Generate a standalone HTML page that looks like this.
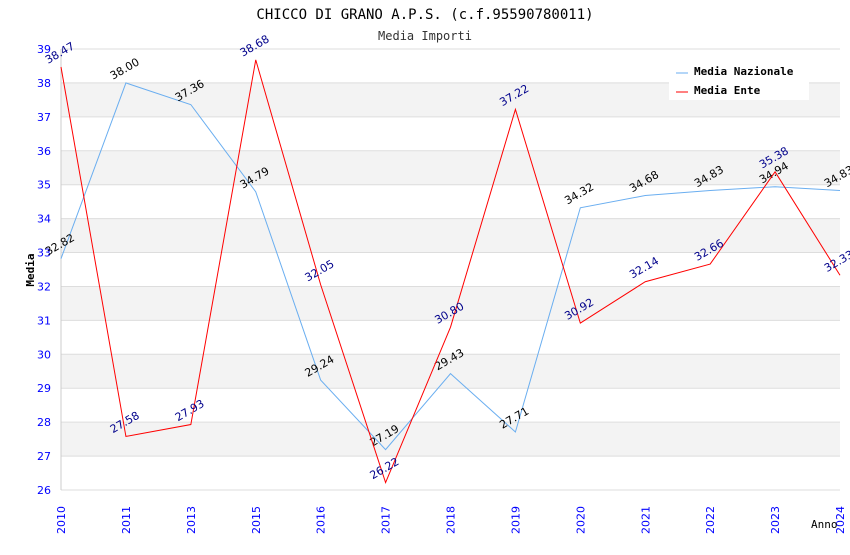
<!DOCTYPE html>
<html><head><meta charset="utf-8"><style>
body{margin:0;background:#fff;}
svg text{font-family:"DejaVu Sans Mono","Liberation Mono",monospace;}
svg text.s{font-family:"DejaVu Sans","Liberation Sans",sans-serif;}
</style></head><body>
<svg id="chart" width="850" height="550" xmlns="http://www.w3.org/2000/svg">
<text x="425" y="19" text-anchor="middle" font-size="14" fill="#000">CHICCO DI GRANO A.P.S. (c.f.95590780011)</text>
<text x="425" y="40" text-anchor="middle" font-size="12" fill="#333">Media Importi</text>
<g id="grid"></g>
<g id="axes"></g>
<g id="series"></g>
<text x="34" y="270" transform="rotate(-90 34 270)" text-anchor="middle" font-size="11" font-weight="bold" fill="#000">Media</text>
<text x="811" y="528" font-size="11" fill="#000">Anno</text>
<g>
<rect x="669" y="60" width="140" height="40" fill="#fff"/>
<line x1="676" y1="73" x2="688" y2="73" stroke="#6aaef0"/>
<text x="694" y="75" font-size="11" font-weight="bold">Media Nazionale</text>
<line x1="676" y1="92" x2="688" y2="92" stroke="#f00"/>
<text x="694" y="94" font-size="11" font-weight="bold">Media Ente</text>
</g>
</svg>
<script>
const categories=["2010","2011","2013","2015","2016","2017","2018","2019","2020","2021","2022","2023","2024"];
const nazionale=[32.82,38.00,37.36,34.79,29.24,27.19,29.43,27.71,34.32,34.68,34.83,34.94,34.83];
const ente=[38.47,27.58,27.93,38.68,32.05,26.22,30.80,37.22,30.92,32.14,32.66,35.38,32.33];
const yTicks=[26,27,28,29,30,31,32,33,34,35,36,37,38,39];
const NS="http://www.w3.org/2000/svg";
const X0=61,X1=840,Y0=490,Y1=49,YMIN=26,YMAX=39;
function xs(i){return X0+(X1-X0)*i/(categories.length-1);}
function ys(v){return Y0-(v-YMIN)*(Y0-Y1)/(YMAX-YMIN);}
function mk(tag,attrs,parent){const e=document.createElementNS(NS,tag);for(const k in attrs)e.setAttribute(k,attrs[k]);parent.appendChild(e);return e;}
const grid=document.getElementById('grid'),axes=document.getElementById('axes'),ser=document.getElementById('series');
for(let v=YMIN;v<YMAX;v++){
  if(v%2===1){const r=mk('rect',{x:X0,y:ys(v+1),width:X1-X0,height:ys(v)-ys(v+1),fill:'#f3f3f3'},grid);
  
  }
}
yTicks.forEach(v=>{
  const l=mk('line',{x1:X0,x2:X1,y1:ys(v),y2:ys(v),stroke:'#ddd'},grid);
  
  
  const t=mk('text',{x:X0-10,y:ys(v)+4,'text-anchor':'end','font-size':'11',fill:'#00f',class:'s'},axes);
  t.textContent=v;
  
  
});
const ax=mk('line',{x1:X0,x2:X0,y1:Y1,y2:Y0,stroke:'#ccc'},axes);


categories.forEach((c,i)=>{
  const x=xs(i),y=Y0+30;
  const t=mk('text',{x:x+4,y:y,transform:`rotate(-90 ${x+4} ${y})`,'text-anchor':'middle','font-size':'11',fill:'#00f',class:'s'},axes);
  t.textContent=c;
  
  
});
function drawSeries(vals,color,labColor,name){
  const p=mk('polyline',{points:vals.map((v,i)=>xs(i)+','+ys(v)).join(' '),fill:'none',stroke:color,'stroke-width':1},ser);
  
  
  vals.forEach((v,i)=>{
    const x=xs(i)-13,y=ys(v)-3;
    const t=mk('text',{x:x,y:y,transform:`rotate(-30 ${x} ${y})`,'font-size':'11',fill:labColor,class:'s'},ser);
    t.textContent=v.toFixed(2);
    
    
  });
}
drawSeries(nazionale,'#6aaef0','#000','nazionale');
drawSeries(ente,'#f00','#00008b','ente');
</script>
</body></html>
